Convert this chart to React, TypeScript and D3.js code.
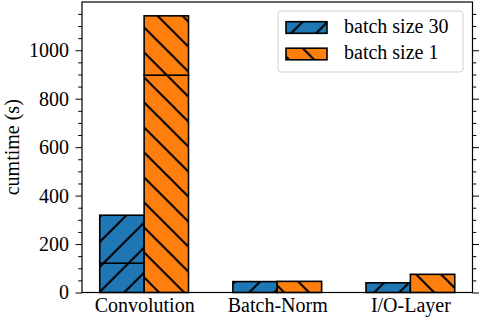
import React, { useEffect, useRef } from "react";
import * as d3 from "d3";

const categories = ["Convolution", "Batch-Norm", "I/O-Layer"];
const seriesNames = ["batch size 30", "batch size 1"];
// each bar is stacked from two parts
const bs30Lower = [121, 45, 40];
const bs30Upper = [198, 0, 0];
const bs1Lower = [897, 46, 75];
const bs1Upper = [245, 0, 0];
const yMajorTicks = [0, 200, 400, 600, 800, 1000];

const colors = ["#1f77b4", "#ff7f0e"];
const hatchIds = ["hatch-fwd", "hatch-back"];

const App = () => {
  const svgRef = useRef<SVGSVGElement>(null);

  useEffect(() => {
    const svg = d3.select(svgRef.current);
    const width = 480;
    const height = 320;
    const margin = { top: 2, right: 7.5, bottom: 27.5, left: 82 };
    const font = "'Liberation Serif', 'Times New Roman', serif";

    svg.selectAll("*").remove();

    const series = [
      { name: seriesNames[0], lower: bs30Lower, upper: bs30Upper },
      { name: seriesNames[1], lower: bs1Lower, upper: bs1Upper },
    ];

    const barW = 1 / 3;
    const span = categories.length - 1 + 2 * barW;
    const pad = span * 0.05;
    const x = d3.scaleLinear()
      .domain([-barW - pad, categories.length - 1 + barW + pad])
      .range([margin.left, width - margin.right]);

    const yMax = d3.max(series.flatMap(s => s.lower.map((v, i) => v + s.upper[i]))) as number;
    const y = d3.scaleLinear()
      .domain([0, yMax * 1.05])
      .range([height - margin.bottom, margin.top]);

    // hatch patterns
    const defs = svg.append("defs");
    const p = 25;
    const fwd = defs.append("pattern")
      .attr("id", hatchIds[0])
      .attr("patternUnits", "userSpaceOnUse")
      .attr("x", 16.7).attr("y", 0)
      .attr("width", p).attr("height", p);
    fwd.append("rect").attr("width", p).attr("height", p).attr("fill", colors[0]);
    fwd.append("path")
      .attr("d", `M-5,5L5,-5M0,${p}L${p},0M${p - 5},${p + 5}L${p + 5},${p - 5}`)
      .attr("stroke", "black").attr("stroke-width", 2);

    const back = defs.append("pattern")
      .attr("id", hatchIds[1])
      .attr("patternUnits", "userSpaceOnUse")
      .attr("x", 0).attr("y", 8.3)
      .attr("width", p).attr("height", p);
    back.append("rect").attr("width", p).attr("height", p).attr("fill", colors[1]);
    back.append("path")
      .attr("d", `M-5,${p - 5}L5,${p + 5}M0,0L${p},${p}M${p - 5},-5L${p + 5},5`)
      .attr("stroke", "black").attr("stroke-width", 2);

    // bars
    series.forEach((s, si) => {
      const rows = categories.map((c, i) => ({ i, lower: s.lower[i], upper: s.upper[i] }));
      const stacked = d3.stack<any>().keys(["lower", "upper"])(rows);
      stacked.forEach(layer => {
        svg.append("g")
          .selectAll("rect")
          .data(layer.filter(d => d[1] > d[0]))
          .join("rect")
          .attr("x", d => x(d.data.i - barW + si * barW))
          .attr("width", x(barW) - x(0))
          .attr("y", d => y(d[1]))
          .attr("height", d => y(d[0]) - y(d[1]))
          .attr("fill", `url(#${hatchIds[si]})`)
          .attr("stroke", "black")
          .attr("stroke-width", 1.6);
      });
    });

    // Y axis left (major + minor)
    const minorTicks = d3.range(0, yMax * 1.05, 50).filter(v => v % 200 !== 0);
    const yLeft = svg.append("g")
      .attr("transform", `translate(${margin.left},0)`)
      .call(d3.axisLeft(y).tickValues(yMajorTicks).tickFormat(d3.format("d"))
        .tickSize(6.5).tickPadding(6.5).tickSizeOuter(0));
    yLeft.select(".domain").remove();
    yLeft.selectAll("text").attr("font-family", font).attr("font-size", 20).attr("fill", "black");

    svg.append("g")
      .attr("transform", `translate(${margin.left},0)`)
      .call(d3.axisLeft(y).tickValues(minorTicks).tickSize(3.8).tickFormat(() => "").tickSizeOuter(0))
      .select(".domain").remove();

    // right side ticks
    svg.append("g")
      .attr("transform", `translate(${width - margin.right},0)`)
      .call(d3.axisRight(y).tickValues(yMajorTicks).tickSize(6.5).tickFormat(() => "").tickSizeOuter(0))
      .select(".domain").remove();
    svg.append("g")
      .attr("transform", `translate(${width - margin.right},0)`)
      .call(d3.axisRight(y).tickValues(minorTicks).tickSize(3.8).tickFormat(() => "").tickSizeOuter(0))
      .select(".domain").remove();

    // X axis labels
    const xAxis = svg.append("g")
      .attr("transform", `translate(0,${height - margin.bottom})`)
      .call(d3.axisBottom(x).tickValues(d3.range(categories.length))
        .tickFormat(i => categories[i as number]).tickSize(0).tickPadding(5.3));
    xAxis.select(".domain").remove();
    xAxis.selectAll("text").attr("font-family", font).attr("font-size", 20).attr("fill", "black");

    // frame
    svg.append("rect")
      .attr("x", margin.left)
      .attr("y", margin.top)
      .attr("width", width - margin.left - margin.right)
      .attr("height", height - margin.top - margin.bottom)
      .attr("fill", "none")
      .attr("stroke", "black")
      .attr("stroke-width", 1.2);

    // Y label
    svg.append("text")
      .attr("transform", `translate(19,${(margin.top + height - margin.bottom) / 2}) rotate(-90)`)
      .attr("text-anchor", "middle")
      .attr("font-family", font)
      .attr("font-size", 20)
      .text("cumtime (s)");

    // legend
    const legend = svg.append("g").attr("transform", "translate(278,11)");
    legend.append("rect")
      .attr("width", 185).attr("height", 61).attr("rx", 3)
      .attr("fill", "white").attr("fill-opacity", 0.8)
      .attr("stroke", "#d0d0d0");
    seriesNames.forEach((name, i) => {
      const row = legend.append("g").attr("transform", `translate(8,${10.7 + i * 26.5})`);
      row.append("rect")
        .attr("width", 41).attr("height", 11.6)
        .attr("fill", `url(#${hatchIds[i]})`)
        .attr("stroke", "black").attr("stroke-width", 1.6);
      row.append("text")
        .attr("x", 58).attr("y", 11)
        .attr("font-family", font).attr("font-size", 20)
        .text(name);
    });
  }, []);

  return (
    <svg
      ref={svgRef}
      width={480}
      height={320}
      style={{ position: "absolute", left: 0, top: 0, background: "white" }}
    />
  );
};

export default App;
